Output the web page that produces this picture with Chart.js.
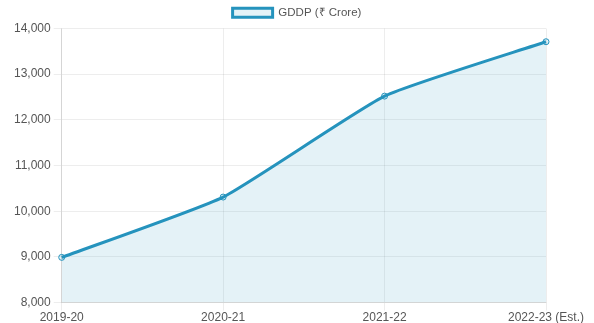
<!DOCTYPE html>
<html>
<head>
<meta charset="utf-8">
<script src="https://cdn.jsdelivr.net/npm/chart.js@4/dist/chart.umd.min.js"></script>
<style>
  html, body { margin: 0; padding: 0; background: #fff; }
  #wrap { width: 594px; height: 323px; }
</style>
</head>
<body>
<div id="wrap"><canvas id="c"></canvas></div>
<script>
// Gross District Domestic Product by year
const years = ['2019-20', '2020-21', '2021-22', '2022-23 (Est.)'];
const gddp = [8990, 10310, 12520, 13710];
const seriesLabel = 'GDDP (₹ Crore)';

Chart.defaults.font.family = '"Liberation Sans", Arial, sans-serif';
Chart.defaults.font.size = 12;
Chart.defaults.color = '#555';

new Chart(document.getElementById('c'), {
  type: 'line',
  data: {
    labels: years,
    datasets: [{
      label: seriesLabel,
      data: gddp,
      borderColor: '#2593bd',
      backgroundColor: 'rgba(37,147,189,0.12)',
      borderWidth: 3,
      fill: true,
      tension: 0.15,
      pointRadius: 3,
      pointBorderWidth: 1,
      pointBackgroundColor: 'rgba(37,147,189,0.12)',
      pointBorderColor: '#2593bd'
    }]
  },
  options: {
    responsive: true,
    maintainAspectRatio: false,
    animation: false,
    layout: { padding: { left: 0, right: 0, top: 0, bottom: -2 } },
    plugins: {
      legend: {
        labels: { boxWidth: 40, boxHeight: 9, padding: 7, font: { size: 11.5 } }
      },
      tooltip: { enabled: false }
    },
    scales: {
      x: {
        grid: { color: 'rgba(0,0,0,0.07)' },
        ticks: { maxRotation: 0, padding: 0 },
        // leave room on the right for the last category label
        afterFit(scale) { scale.paddingRight = 48; }
      },
      y: {
        min: 8000,
        max: 14000,
        grid: { color: 'rgba(0,0,0,0.07)' },
        ticks: { stepSize: 1000 },
        // extra gutter to the left of the value labels
        afterFit(scale) { scale.width += 11; }
      }
    }
  }
});
</script>
</body>
</html>
